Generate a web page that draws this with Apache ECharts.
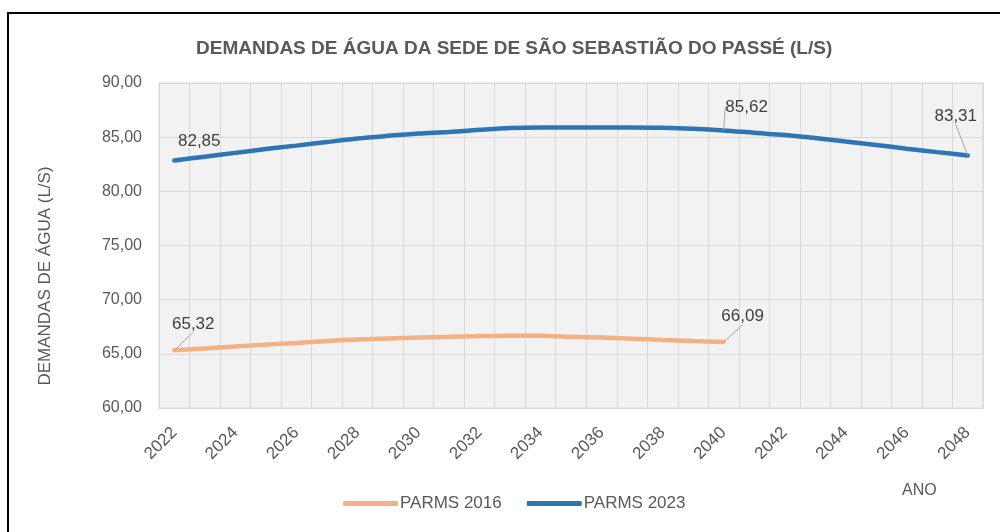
<!DOCTYPE html>
<html>
<head>
<meta charset="utf-8">
<script src="https://cdn.jsdelivr.net/npm/echarts@6/dist/echarts.min.js"></script>
<style>
  html, body { margin: 0; padding: 0; background: #fff; }
  #chart { width: 1000px; height: 532px; }
</style>
</head>
<body>
<div id="chart"></div>
<script>
const years = ['2022', '2023', '2024', '2025', '2026', '2027', '2028', '2029', '2030', '2031', '2032', '2033', '2034', '2035',
  '2036', '2037', '2038', '2039', '2040', '2041', '2042', '2043', '2044', '2045', '2046', '2047', '2048'];

const parms2016 = [65.32, 65.50, 65.68, 65.85, 66.00, 66.18, 66.33, 66.42, 66.50, 66.57, 66.64, 66.66, 66.66, 66.58,
  66.50, 66.40, 66.28, 66.18, 66.09];

const parms2023 = [82.85, 83.20, 83.55, 83.90, 84.22, 84.55, 84.88, 85.12, 85.33, 85.48, 85.68, 85.85, 85.90, 85.90,
  85.90, 85.90, 85.86, 85.77, 85.62, 85.40, 85.20, 84.92, 84.60, 84.28, 83.94, 83.62, 83.31];

const yTicks = [60, 65, 70, 75, 80, 85, 90];

// which points carry a value label: [dx, dy, leader line?]
const labels2016 = { 0: [19, -13, true], 18: [19, -12, true] };
const labels2023 = { 0: [25, -6, false], 18: [23, -10, true], 26: [-12, -26, true] };

const font = "'Liberation Sans Narrow', 'Arial Narrow', 'Liberation Sans', sans-serif";
const fmt = v => v.toFixed(2).replace('.', ',');

const chart = echarts.init(document.getElementById('chart'), null, { renderer: 'canvas' });

function buildData(values, labelled) {
  return values.map((v, i) => labelled[i]
    ? { value: v, label: { show: true }, labelLine: { show: labelled[i][2] } }
    : v);
}

function layoutFor(labelled, seriesIndex) {
  return params => {
    if (params.seriesIndex !== seriesIndex) return {};
    const off = labelled[params.dataIndex];
    return off ? { dx: off[0], dy: off[1] } : {};
  };
}

function lineSeries(name, values, labelled, idx, color) {
  return {
    name: name,
    type: 'line',
    smooth: 0.3,
    showSymbol: true,
    symbol: 'circle',
    symbolSize: 0.1,
    data: buildData(values, labelled),
    lineStyle: { color: color, width: 4.5, cap: 'round' },
    itemStyle: { color: color },
    label: { show: false, position: 'top', distance: 5, formatter: p => fmt(p.value), fontFamily: font, fontSize: 17, color: '#404040' },
    labelLine: { show: true, lineStyle: { color: '#a6a6a6', width: 1 } },
    labelLayout: layoutFor(labelled, idx),
  };
}

const option = {
  animation: false,
  backgroundColor: '#fff',
  title: {
    text: 'DEMANDAS DE ÁGUA DA SEDE DE SÃO SEBASTIÃO DO PASSÉ (L/S)',
    left: 191,
    top: 34,
    textStyle: { fontFamily: font, fontSize: 19, fontWeight: 'bold', color: '#595959' },
  },
  legend: {
    bottom: 15,
    left: 338,
    itemWidth: 55,
    itemHeight: 5,
    itemGap: 25,
    icon: 'roundRect',
    textStyle: { fontFamily: font, fontSize: 17, color: '#595959', padding: [0, 0, 0, -3] },
    data: ['PARMS 2016', 'PARMS 2023'],
  },
  grid: {
    left: 159, right: 17, top: 83, bottom: 124,
    show: true, backgroundColor: '#f2f2f2', borderColor: '#d9d9d9', borderWidth: 1,
  },
  xAxis: {
    type: 'category',
    data: years,
    boundaryGap: true,
    axisLine: { show: true, lineStyle: { color: '#d9d9d9' } },
    axisTick: { show: false },
    axisLabel: { interval: 1, rotate: 45, margin: 22, fontFamily: font, fontSize: 17, color: '#595959' },
    splitLine: { show: true, interval: 0, lineStyle: { color: '#d9d9d9', width: 1 } },
  },
  yAxis: {
    type: 'value',
    min: yTicks[0],
    max: yTicks[yTicks.length - 1],
    interval: 5,
    axisLine: { show: false },
    axisTick: { show: false },
    axisLabel: { margin: 17, fontFamily: font, fontSize: 16, color: '#595959', formatter: fmt },
    splitLine: { lineStyle: { color: '#d9d9d9', width: 1 } },
  },
  series: [
    lineSeries('PARMS 2016', parms2016, labels2016, 0, '#f4b183'),
    lineSeries('PARMS 2023', parms2023, labels2023, 1, '#2e75b6'),
  ],
  graphic: [
    { type: 'rect', shape: { x: 8, y: 13, width: 1100, height: 600 }, style: { fill: 'none', stroke: '#000', lineWidth: 2 }, silent: true },
    {
      type: 'text', x: 45, y: 276, rotation: Math.PI / 2,
      style: { text: 'DEMANDAS DE ÁGUA (L/S)', align: 'center', verticalAlign: 'middle', font: '17px ' + font, fill: '#595959' },
    },
    { type: 'text', left: 902, top: 483, style: { text: 'ANO', font: '16px ' + font, fill: '#595959' } },
  ],
};

chart.setOption(option);
</script>
</body>
</html>
